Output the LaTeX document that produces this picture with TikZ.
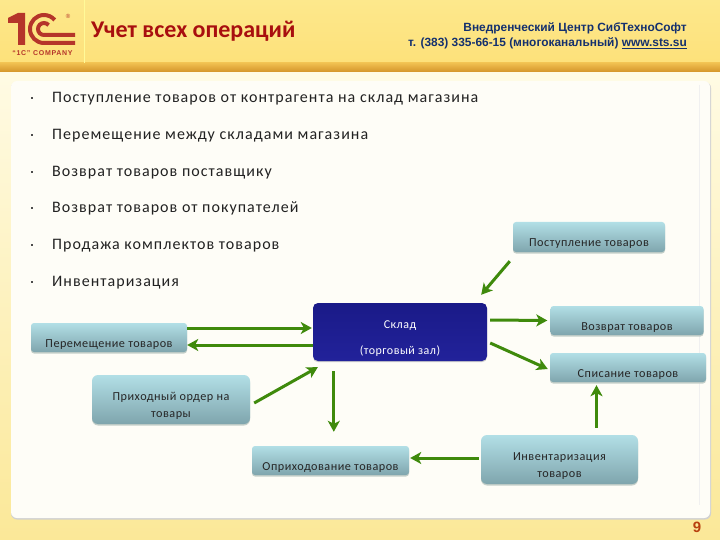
\documentclass[tikz,border=0pt]{standalone}
\usepackage{fontspec}
\setmainfont{Carlito}
\newfontfamily\headfont{Liberation Sans}
\usetikzlibrary{arrows.meta}
\definecolor{tealtop}{HTML}{B2DFE6}
\definecolor{tealbot}{HTML}{7FA5AD}
\definecolor{tealedge}{HTML}{C4CFC9}
\definecolor{arrowgreen}{HTML}{3F8A0C}
\definecolor{logored}{HTML}{B5352A}
\definecolor{titlered}{HTML}{A80F0F}
\definecolor{headblue}{HTML}{14306E}
\definecolor{bodyink}{HTML}{222222}
\definecolor{paneltone}{HTML}{FEFDF7}
\definecolor{headtop}{HTML}{FDE88C}
\definecolor{headbot}{HTML}{FDE17A}
\definecolor{bandtop}{HTML}{F0C050}
\definecolor{bandbot}{HTML}{D4942A}
\definecolor{pagetop}{HTML}{FFFBE4}
\definecolor{pagebot}{HTML}{FBE898}
\definecolor{nightblue}{HTML}{1A1A88}
\definecolor{nightblue2}{HTML}{22229A}
\definecolor{pagenum}{HTML}{B8400F}
\newcommand{\lowered}[2]{\raisebox{-#1}[0pt][0pt]{\begin{tabular}{@{}c@{}}#2\end{tabular}}}
\tikzset{
  x=1pt,y=-1pt,
  flowbox/.style={rounded corners=3pt,top color=tealtop,bottom color=tealbot,
    draw=none,inner sep=0pt,font=\fontsize{12.2}{17}\selectfont\addfontfeatures{LetterSpace=4},text=black!85,align=center,
    preaction={fill=tealedge,transform canvas={yshift=-1.5pt}}},
  flowarrow/.style={draw=arrowgreen,line width=3pt,-{Stealth[length=11pt,width=12pt,inset=3pt]}},
  bulletline/.style={anchor=west,inner sep=0pt,font=\fontsize{16}{18}\selectfont\addfontfeatures{LetterSpace=6.5},text=bodyink},
  bulletdot/.style={rectangle,fill=black!70,inner sep=0pt,minimum size=2.4pt},
}
\begin{document}
\begin{tikzpicture}
\useasboundingbox (0,0) rectangle (720,540);
% page background
\shade[top color=pagetop,bottom color=pagebot] (0,72) rectangle (720,540);
% header
\shade[top color=headtop,bottom color=headbot] (0,0) rectangle (720,63);
\shade[top color=bandtop,bottom color=bandbot] (0,63) rectangle (720,72);
\draw[white!60!yellow,line width=.8pt] (84,0) -- (84,63);
% panel
\fill[black!18,rounded corners=6pt] (11,82) rectangle (711,519.5);
\fill[paneltone,rounded corners=6pt] (11,81) rectangle (710,518);
\draw[black!6,line width=.6pt] (699,85) -- (699,505);
% logo
\begin{scope}[logored]
\fill (8,18) -- (18,13) -- (25,13) -- (25,45) -- (18,45) -- (18,23) -- (8,23) -- cycle;
\draw[line width=4pt] (75,43) -- (44,43) arc[start angle=270,end angle=40,radius=14pt];
\draw[line width=4pt] (75,35) -- (44,35) arc[start angle=270,end angle=40,radius=6pt];
\node[font=\headfont\fontsize{7}{8}\selectfont\bfseries\addfontfeatures{LetterSpace=10},inner sep=0pt] (logotext) at (42.5,53) {“1C” COMPANY};
\node[font=\headfont\fontsize{6}{6}\selectfont,inner sep=0pt] (logomark) at (68,16) {®};
\end{scope}
% header text
\node[anchor=west,inner sep=0pt,text=titlered,font=\fontsize{24}{26}\selectfont\bfseries] (title) at (91,31) {Учет всех операций};
\node[anchor=east,inner sep=0pt,text=headblue,font=\headfont\fontsize{11.9}{13}\selectfont\bfseries] (centre) at (687,28) {Внедренческий Центр СибТехноСофт};
\node[anchor=east,inner sep=0pt,text=headblue,font=\headfont\fontsize{11.9}{13}\selectfont\bfseries] (phone) at (687,43) {т. (383) 335-66-15 (многоканальный) \underline{www.sts.su}};
% bullets
\foreach \yy/\nm/\txt in {97/a/{Поступление товаров от контрагента на склад магазина},
  134/b/{Перемещение между складами магазина},
  171/c/{Возврат товаров поставщику},
  207/d/{Возврат товаров от покупателей},
  244/e/{Продажа комплектов товаров},
  281/f/{Инвентаризация}}{
  \node[bulletdot] (dot\nm) at (32,\yy+1) {};
  \node[bulletline] (line\nm) at (52,\yy+1.5) {\txt};
}
% boxes
\node[flowbox,minimum width=152pt,minimum height=30pt] (post) at (589,237) {\lowered{9pt}{Поступление товаров}};
\node[flowbox,minimum width=153pt,minimum height=29pt] (vozv) at (627,320.5) {\lowered{10pt}{Возврат товаров}};
\node[flowbox,minimum width=156pt,minimum height=29pt] (spis) at (628,367.5) {\lowered{10pt}{Списание товаров}};
\node[flowbox,minimum width=157pt,minimum height=49pt,rounded corners=6pt] (inv) at (559.5,459.5) {\lowered{9pt}{Инвентаризация\\товаров}};
\node[flowbox,minimum width=157pt,minimum height=29pt] (opr) at (330.5,460.5) {\lowered{10pt}{Оприходование товаров}};
\node[flowbox,minimum width=158pt,minimum height=49pt,rounded corners=6pt] (prih) at (171,399.5) {\lowered{9pt}{Приходный ордер на\\товары}};
\node[flowbox,minimum width=156pt,minimum height=29pt] (perem) at (109,337.5) {\lowered{10pt}{Перемещение товаров}};
\node[rounded corners=5pt,top color=nightblue,bottom color=nightblue2,minimum width=174pt,minimum height=58pt,inner sep=0pt,text=white,align=center,
  font=\fontsize{12}{26}\selectfont\addfontfeatures{LetterSpace=4},
  preaction={fill=black!20,transform canvas={yshift=-1.2pt}}] (sklad) at (400,332) {\lowered{7pt}{Склад\\(торговый зал)}};
% arrows
\draw[flowarrow] ([yshift=9.5pt]perem.east) -- ([shift={(-1pt,4pt)}]sklad.west);
\draw[flowarrow] ([yshift=-13pt]sklad.west) -- ([yshift=-7.5pt]perem.east);
\draw[flowarrow] ([shift={(4pt,-3.5pt)}]prih.east) -- ([shift={(5pt,-6pt)}]sklad.south west);
\draw[flowarrow] ([shift={(21pt,-10pt)}]sklad.south west) -- ([shift={(82pt,14pt)}]opr.north west);
\draw[flowarrow] ([shift={(-3pt,-9pt)}]post.south west) -- ([shift={(-6pt,8pt)}]sklad.north east);
\draw[flowarrow] ([shift={(3pt,12pt)}]sklad.east) -- ([shift={(-3pt,0pt)}]vozv.west);
\draw[flowarrow] ([shift={(3pt,-11pt)}]sklad.east) -- ([shift={(-2pt,-1.5pt)}]spis.west);
\draw[flowarrow] ([shift={(37pt,7pt)}]inv.north) -- ([shift={(-31.5pt,-3pt)}]spis.south);
\draw[flowarrow] ([shift={(-2pt,1.5pt)}]inv.west) -- ([shift={(1pt,2.5pt)}]opr.east);
% page number
\node[inner sep=0pt,text=pagenum,font=\headfont\fontsize{15}{16}\selectfont\bfseries] (pageno) at (697,527) {9};
\end{tikzpicture}
\end{document}
